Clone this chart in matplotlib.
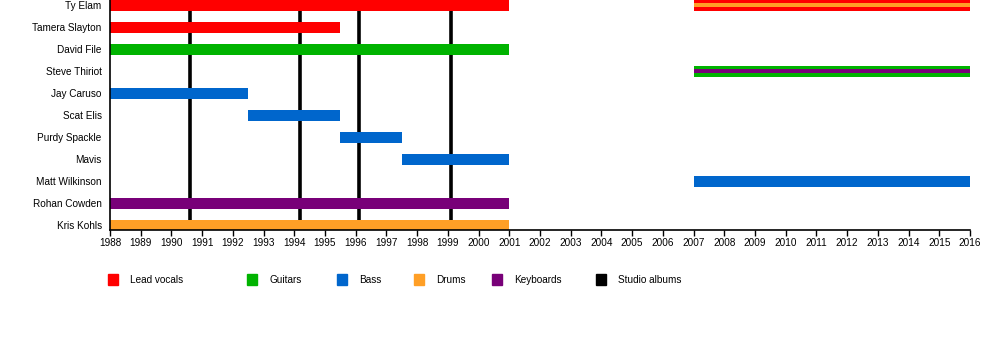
import matplotlib.pyplot as plt
from matplotlib.patches import Rectangle

plt.rcParams['font.family'] = ['Liberation Sans', 'DejaVu Sans']

members = ["Ty Elam", "Tamera Slayton", "David File", "Steve Thiriot", "Jay Caruso",
           "Scat Elis", "Purdy Spackle", "Mavis", "Matt Wilkinson", "Rohan Cowden", "Kris Kohls"]

COLORS = {
    "Lead vocals": "#FF0000",
    "Guitars": "#00B300",
    "Bass": "#0066CC",
    "Drums": "#FF9F26",
    "Keyboards": "#780078",
    "Studio albums": "#000000",
}

# (member, role, start, end)
periods = [
    ("Ty Elam", "Lead vocals", 1988, 2001),
    ("Ty Elam", "Lead vocals", 2007, 2016),
    ("Tamera Slayton", "Lead vocals", 1988, 1995.5),
    ("David File", "Guitars", 1988, 2001),
    ("Steve Thiriot", "Guitars", 2007, 2016),
    ("Jay Caruso", "Bass", 1988, 1992.5),
    ("Scat Elis", "Bass", 1992.5, 1995.5),
    ("Purdy Spackle", "Bass", 1995.5, 1997.5),
    ("Mavis", "Bass", 1997.5, 2001),
    ("Matt Wilkinson", "Bass", 2007, 2016),
    ("Rohan Cowden", "Keyboards", 1988, 2001),
    ("Kris Kohls", "Drums", 1988, 2001),
]

# secondary roles drawn as a thin stripe in the middle of the bar
stripes = [
    ("Ty Elam", "Drums", 2007, 2016),
    ("Steve Thiriot", "Keyboards", 2007, 2016),
]

albums = [1990.6, 1994.2, 1996.1, 1999.1]

years = list(range(1988, 2017))

fig = plt.figure(figsize=(10, 3.5), dpi=100)
ax = fig.add_axes([0.11, 1 - 230 / 350, 0.86, 230 / 350])

row = {m: i for i, m in enumerate(members)}
bar_h = 0.5

for a in albums:
    ax.axvline(a, color="black", lw=2.6, zorder=1)

for m, role, s, e in periods:
    ax.barh(row[m], e - s, left=s, height=bar_h, color=COLORS[role], zorder=2)
for m, role, s, e in stripes:
    ax.barh(row[m], e - s, left=s, height=bar_h / 3, color=COLORS[role], zorder=3)

ax.set_xlim(1988, 2016)
ax.set_ylim(len(members) - 1 + 5 / 22, -5 / 22)
ax.set_xticks(years)
ax.set_xticklabels([str(y) for y in years], fontsize=7.2)
ax.set_yticks(range(len(members)))
ax.set_yticklabels(members, fontsize=7.2)
ax.tick_params(axis="y", length=0, pad=6)
ax.tick_params(axis="x", length=4, width=1, pad=2)
ax.spines["top"].set_visible(False)
ax.spines["right"].set_visible(False)
for sp in ("left", "bottom"):
    ax.spines[sp].set_linewidth(1.2)

# legend along the bottom
legend_x = [108, 247, 337, 414, 492, 596]
for (label, col), x in zip(COLORS.items(), legend_x):
    fig.patches.append(Rectangle((x / 1000, 1 - 285 / 350), 10 / 1000, 11 / 350,
                                 transform=fig.transFigure, color=col, figure=fig))
    fig.text((x + 22) / 1000, 1 - 280 / 350, label, fontsize=7.2, va="center", ha="left")

fig.savefig("out.png", dpi=100)
